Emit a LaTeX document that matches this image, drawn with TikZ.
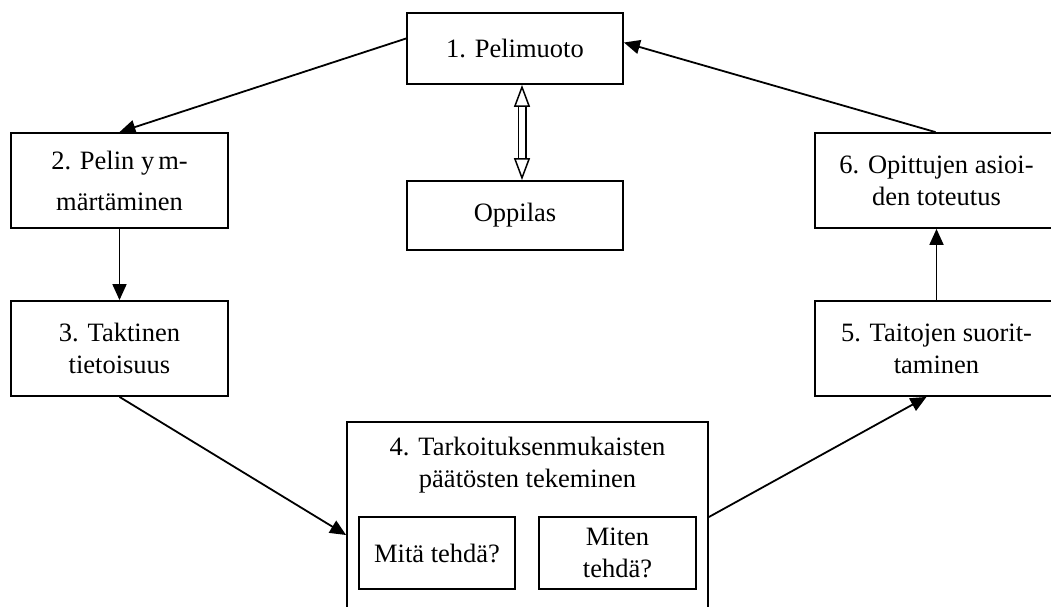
\documentclass[tikz,border=0pt]{standalone}
\usepackage{fontspec}
\setmainfont{Liberation Serif}
\usetikzlibrary{arrows.meta}

\begin{document}
\begin{tikzpicture}[x=1pt, y=-1pt, line width=1.8pt,
  box/.style={draw, align=center, inner sep=0pt},
  >={Triangle[length=16pt, width=14pt]},
  font=\fontsize{26.5}{32}\selectfont]
\useasboundingbox (0,0) rectangle (1051,607);
\clip (0,0) rectangle (1051,607);

\node (n1) at (515,48.5) [box, minimum width=216, minimum height=71] {1. Pelimuoto};
\node (opp) at (515,215.5) [box, minimum width=216, minimum height=69] {Oppilas};
\node (n2) at (119.5,180.5) [box, minimum width=217, minimum height=95] {2. Pelin y\hspace{4pt}m-\\[9pt]märtäminen};
\node (n3) at (119.5,348.5) [box, minimum width=217, minimum height=95] {3. Taktinen\\tietoisuus};
\node (n6) at (936.5,180.5) [box, minimum width=243, minimum height=95] {6. Opittujen asioi-\\den toteutus};
\node (n5) at (936.5,348.5) [box, minimum width=243, minimum height=95] {5. Taitojen suorit-\\taminen};

% box 4 runs off the bottom of the page
\node (n4) at (527.5,421) [box, anchor=north, minimum width=361, minimum height=220] {};
\node (n4t) at (527.5,465) [align=center] {4. Tarkoituksenmukaisten\\päätösten tekeminen};
\node (mita) at (437,553) [box, minimum width=156, minimum height=72] {Mitä tehdä?};
\node (miten) at (617.5,553) [box, minimum width=157, minimum height=72] {Miten\\tehdä?};

\draw [->] ([yshift=10pt]n1.west) -- (n2.north);
\draw [->] (n2) -- (n3);
\draw [->] (n3.south) -- ([yshift=-114pt]n4.north west);
\draw [->] ([yshift=-96pt]n4.north east) -- ([xshift=-10pt]n5.south);
\draw [->] (n5) -- (n6);
\draw [->] ([xshift=-1pt]n6.north) -- ([yshift=6pt]n1.east);
\draw [line width=1.5pt, double distance=6pt,
  {Triangle[open, length=22pt, width=16pt]}-{Triangle[open, length=22pt, width=16pt]}]
  ([xshift=7pt]n1.south) -- ([xshift=7pt]opp.north);
\end{tikzpicture}
\end{document}
